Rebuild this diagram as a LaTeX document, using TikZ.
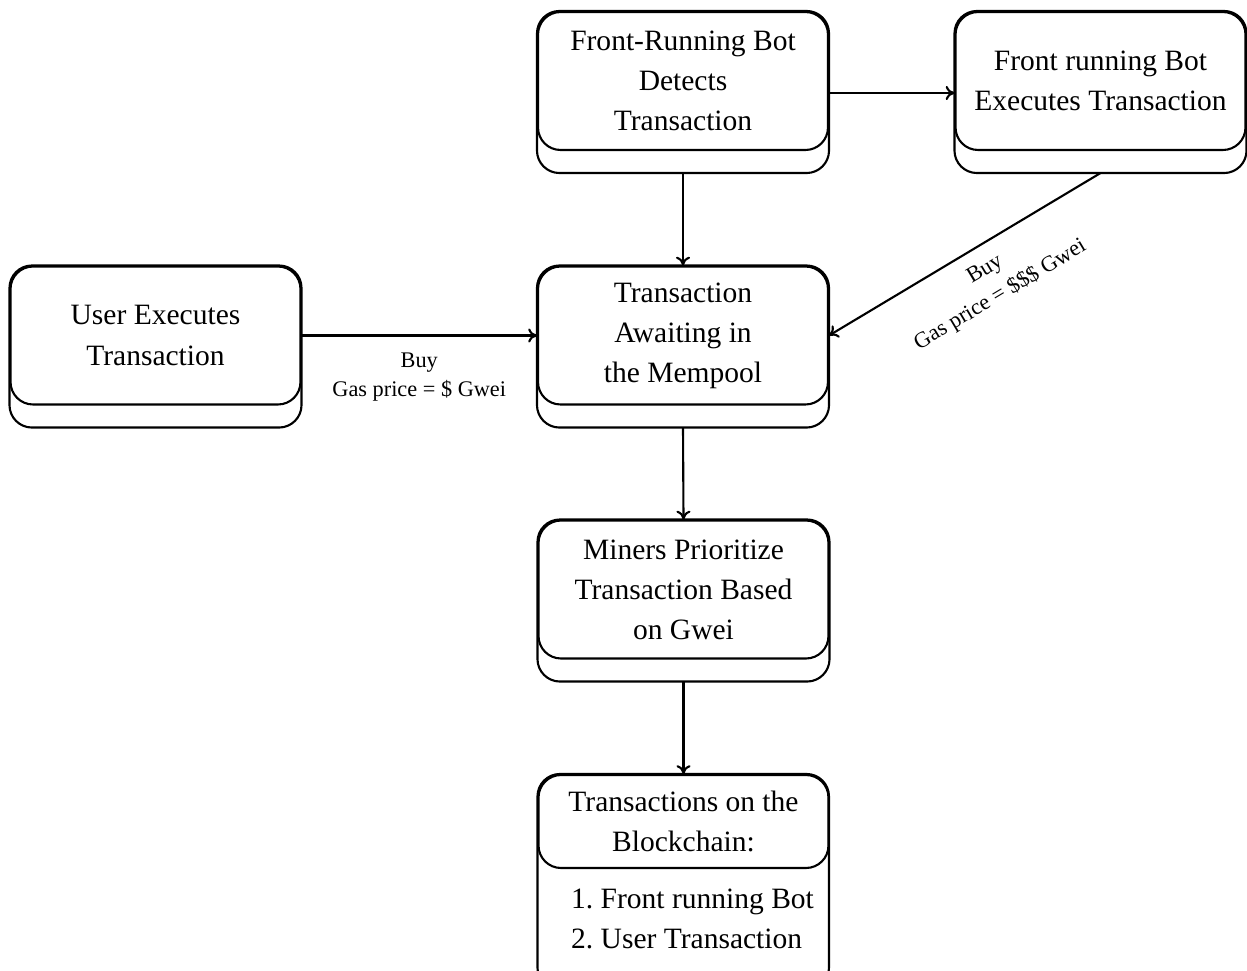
\documentclass[tikz,border=0pt]{standalone}
\usepackage{fontspec}
\setmainfont{Liberation Serif}
\usetikzlibrary{arrows.meta}

\tikzset{
  box/.style={draw, line width=1.2pt, rounded corners=0.45cm, minimum width=5.8cm,
    minimum height=2.76cm, inner sep=0pt, align=center,
    font=\fontsize{16.8}{22.8}\selectfont},
  arr/.style={line width=1.2pt, -{To[length=5pt,width=8pt]}},
  lbl/.style={align=center, font=\fontsize{12.7}{17}\selectfont}
}

\begin{document}
\begin{tikzpicture}[x=0.02cm, y=-0.02cm]
    \useasboundingbox (0,0) rectangle (1247,970);

    % boxes
    \node [box] (detect) at (683,81) {Front-Running Bot\\Detects\\Transaction};
    \node [box] (exec) at (1100.5,81) {Front running Bot\\Executes Transaction};
    \node [box] (user) at (155.5,335.5) {User Executes\\Transaction};
    \node [box] (mem) at (683,335.5) {Transaction\\Awaiting in\\the Mempool};
    \node [box] (miner) at (683.5,589.5) {Miners Prioritize\\Transaction Based\\on Gwei};
    \node [box, minimum height=1.86cm] (chain) at (683.5,821.5) {Transactions on the\\Blockchain:};

    % lower layer of the boxes
    \foreach \n in {detect,exec,user,mem,miner}
        \draw [line width=1.2pt, rounded corners=0.45cm] (\n.north west) rectangle ([yshift=-0.44cm]\n.south east);
    \coordinate (chainend) at (829,990);
    \draw [line width=1.2pt, rounded corners=0.45cm] (chain.north west) rectangle (chainend);
    \node [anchor=west, align=left, font=\fontsize{16.8}{22.8}\selectfont] (list) at (565,919)
        {1.\ Front running Bot\\2.\ User Transaction};

    % arrows
    \draw [arr] ([yshift=-0.24cm]detect.east) -- ([yshift=-0.24cm]exec.west);
    \draw [arr] ([yshift=-0.44cm]detect.south) -- (mem.north);
    \draw [arr] (user.east) -- node [lbl, below=0.2cm] {Buy\\Gas price = \$ Gwei} (mem.west);
    \draw [arr] ([yshift=-0.44cm]exec.south) -- node [lbl, sloped, below=0.15cm, pos=0.47] {Buy\\Gas price = \$\$\$ Gwei} (mem.east);
    \draw [arr] ([yshift=-0.44cm]mem.south) -- (miner.north);
    \draw [arr] ([yshift=-0.44cm]miner.south) -- (chain.north);

\end{tikzpicture}
\end{document}
